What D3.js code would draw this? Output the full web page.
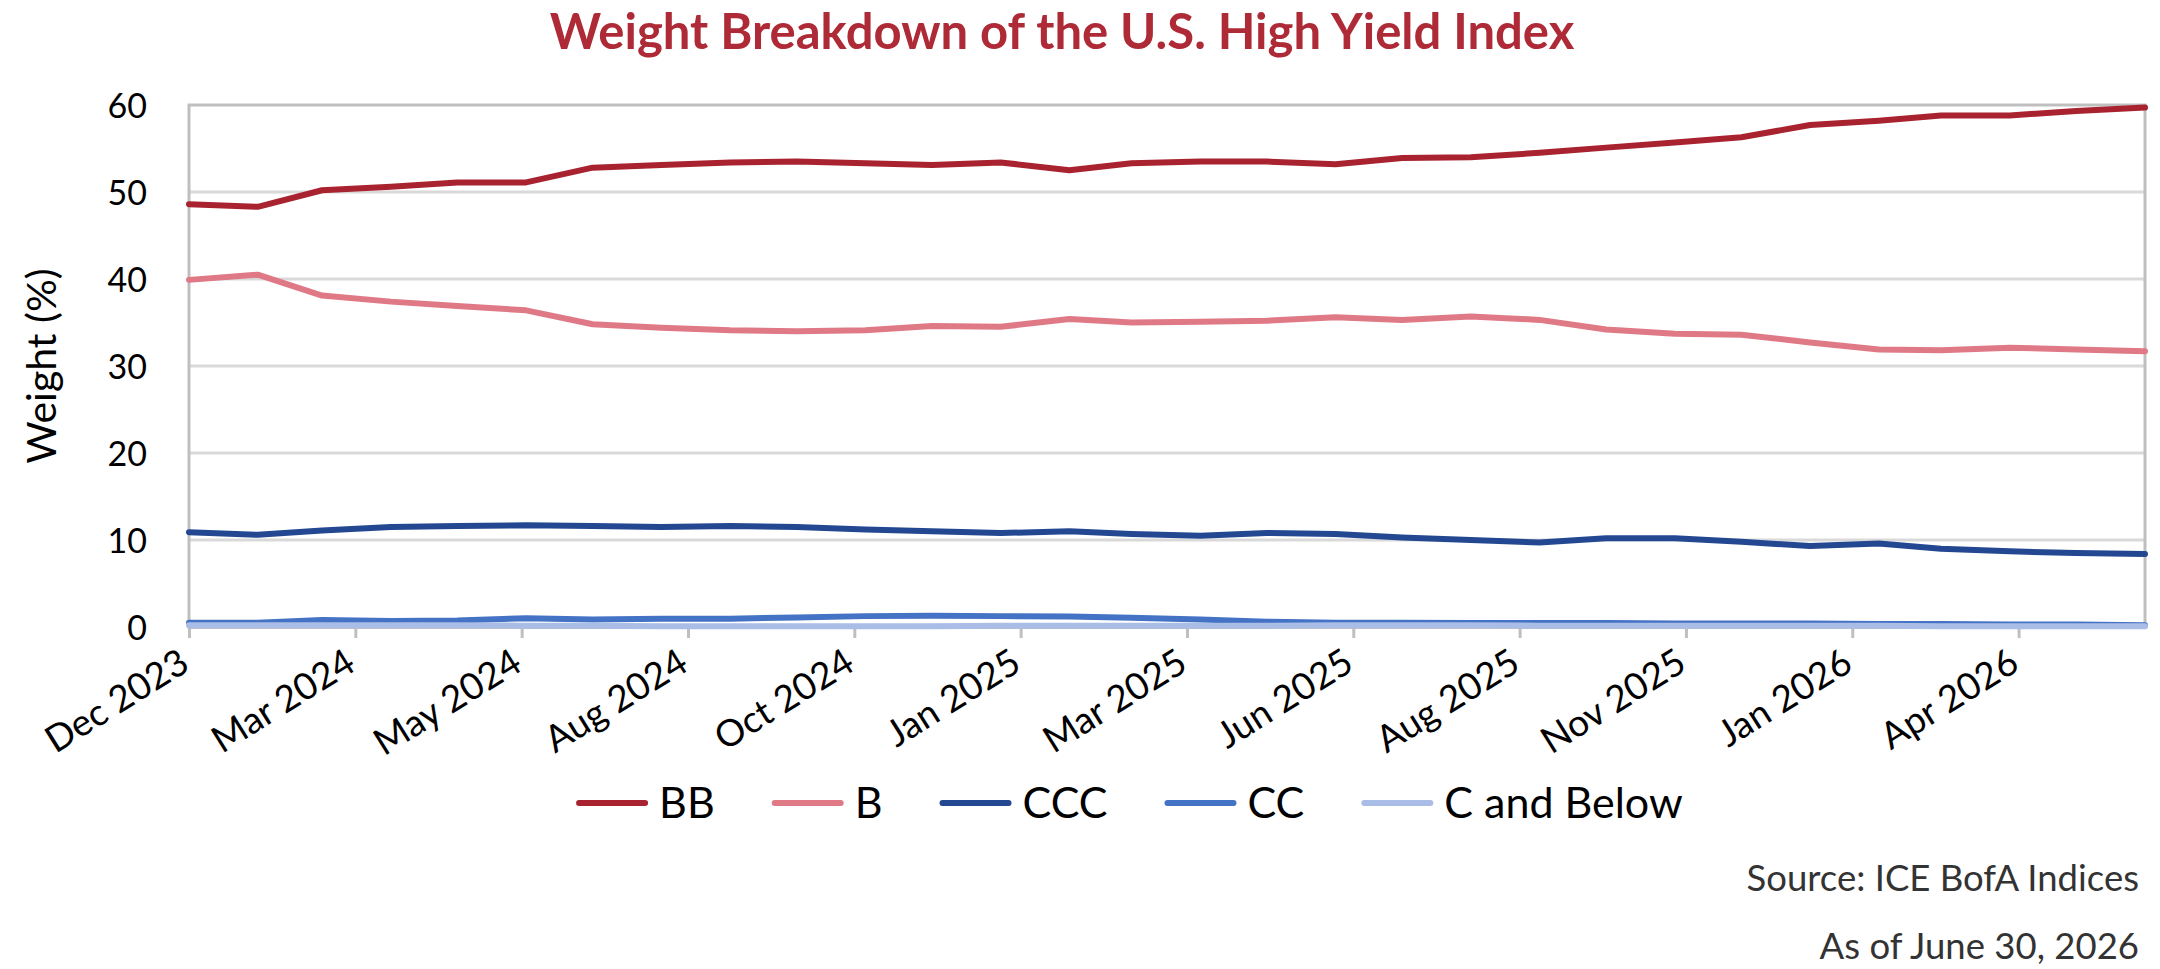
<!DOCTYPE html>
<html>
<head>
<meta charset="utf-8">
<script src="https://cdn.jsdelivr.net/npm/d3@7"></script>
<style>
  body { margin: 0; background: #fff; }
  svg { display: block; font-family: Lato, "Open Sans", sans-serif; }
</style>
</head>
<body>
<svg id="chart"></svg>
<script>
// month-end observations
const months = [
  '2023-12-31', '2024-01-31', '2024-02-29', '2024-03-31', '2024-04-30', '2024-05-31',
  '2024-06-30', '2024-07-31', '2024-08-31', '2024-09-30', '2024-10-31', '2024-11-30',
  '2024-12-31', '2025-01-31', '2025-02-28', '2025-03-31', '2025-04-30', '2025-05-31',
  '2025-06-30', '2025-07-31', '2025-08-31', '2025-09-30', '2025-10-31', '2025-11-30',
  '2025-12-31', '2026-01-31', '2026-02-28', '2026-03-31', '2026-04-30', '2026-05-31'
];

const seriesNames = ['BB', 'B', 'CCC', 'CC', 'C and Below'];

const bbValues = [48.6, 48.3, 50.2, 50.6, 51.1, 51.1, 52.8, 53.1, 53.4, 53.5,
                  53.3, 53.1, 53.4, 52.5, 53.3, 53.5, 53.5, 53.2, 53.9, 54.0,
                  54.5, 55.1, 55.7, 56.3, 57.7, 58.2, 58.8, 58.8, 59.3, 59.7];
const bValues = [39.9, 40.5, 38.1, 37.4, 36.9, 36.4, 34.8, 34.4, 34.1, 34.0,
                 34.1, 34.6, 34.5, 35.4, 35.0, 35.1, 35.2, 35.6, 35.3, 35.7,
                 35.3, 34.2, 33.7, 33.6, 32.7, 31.9, 31.8, 32.1, 31.9, 31.7];
const cccValues = [10.9, 10.6, 11.1, 11.5, 11.6, 11.7, 11.6, 11.5, 11.6, 11.5,
                   11.2, 11.0, 10.8, 11.0, 10.7, 10.5, 10.8, 10.7, 10.3, 10.0,
                   9.7, 10.2, 10.2, 9.8, 9.3, 9.6, 9.0, 8.7, 8.5, 8.4];
const ccValues = [0.5, 0.5, 0.8, 0.7, 0.75, 1.0, 0.85, 0.95, 0.95, 1.1,
                  1.25, 1.3, 1.25, 1.2, 1.05, 0.85, 0.6, 0.5, 0.5, 0.45,
                  0.45, 0.45, 0.4, 0.4, 0.4, 0.35, 0.35, 0.3, 0.3, 0.2];
const cBelowValues = [0.2, 0.2, 0.2, 0.2, 0.2, 0.15, 0.15, 0.1, 0.1, 0.1,
                      0.1, 0.1, 0.15, 0.15, 0.15, 0.15, 0.15, 0.2, 0.2, 0.2,
                      0.15, 0.15, 0.15, 0.15, 0.15, 0.15, 0.1, 0.1, 0.1, 0.1];

const yTicks = [0, 10, 20, 30, 40, 50, 60];
const TICK_DAYS = 75;

const colors = ['#a8232f', '#e07986', '#234891', '#4472c4', '#a9bde6'];

const WIDTH = 2160;
const HEIGHT = 969;
const PLOT = {left: 189, right: 2145, top: 105, bottom: 627};

const parse = d3.utcParse('%Y-%m-%d');
const dates = months.map(parse);
const allValues = [bbValues, bValues, cccValues, ccValues, cBelowValues];

const series = seriesNames.map((name, i) => ({
    name: name,
    color: colors[i],
    values: allValues[i].map((v, j) => ({date: dates[j], value: v}))
}));

const svg = d3.select('#chart')
    .attr('width', WIDTH)
    .attr('height', HEIGHT);

const x = d3.scaleUtc()
    .domain(d3.extent(dates))
    .range([PLOT.left, PLOT.right]);

const y = d3.scaleLinear()
    .domain([0, 60])
    .range([PLOT.bottom, PLOT.top]);

// title
svg.append('text')
    .attr('x', 1062)
    .attr('y', 49)
    .attr('text-anchor', 'middle')
    .attr('fill', '#ad2a36')
    .style('font-size', '49px')
    .style('font-weight', 'bold')
    .text('Weight Breakdown of the U.S. High Yield Index');

// gridlines
svg.append('g')
    .selectAll('line')
    .data(yTicks.filter(t => t > 0 && t < 60))
    .enter()
    .append('line')
    .attr('x1', PLOT.left)
    .attr('x2', PLOT.right)
    .attr('y1', d => y(d))
    .attr('y2', d => y(d))
    .attr('stroke', '#d9d9d9')
    .attr('stroke-width', 3);

// plot border
svg.append('rect')
    .attr('x', PLOT.left)
    .attr('y', PLOT.top)
    .attr('width', PLOT.right - PLOT.left)
    .attr('height', PLOT.bottom - PLOT.top)
    .attr('fill', 'none')
    .attr('stroke', '#bfbfbf')
    .attr('stroke-width', 3);

// y axis
const yAxis = svg.append('g')
    .attr('transform', `translate(${PLOT.left}, 0)`)
    .call(d3.axisLeft(y).tickValues(yTicks).tickSize(0).tickPadding(42));
yAxis.select('.domain').remove();
yAxis.selectAll('text')
    .style('font-size', '34px')
    .style('font-family', 'Lato')
    .attr('fill', '#000')
    .attr('dy', '0.36em');

svg.append('text')
    .attr('transform', `translate(56, ${(PLOT.top + PLOT.bottom) / 2}) rotate(-90)`)
    .attr('text-anchor', 'middle')
    .style('font-size', '41px')
    .text('Weight (%)');

// x axis
const tickDates = d3.utcDay.range(dates[0], dates[dates.length - 1])
    .filter((d, i) => i % TICK_DAYS === 0);

const xAxis = svg.append('g')
    .attr('transform', `translate(0, ${PLOT.bottom})`)
    .call(d3.axisBottom(x)
        .tickValues(tickDates)
        .tickFormat(d3.utcFormat('%b %Y'))
        .tickSize(11)
        .tickSizeOuter(0));
xAxis.select('.domain').attr('stroke', '#bfbfbf').attr('stroke-width', 3);
xAxis.selectAll('.tick line').attr('stroke', '#bfbfbf').attr('stroke-width', 3);
xAxis.selectAll('.tick text')
    .style('font-size', '37px')
    .style('font-family', 'Lato')
    .attr('fill', '#000')
    .attr('text-anchor', 'end')
    .attr('y', 0)
    .attr('dy', 0)
    .attr('transform', 'translate(2, 42) rotate(-32)');

// lines
const line = d3.line()
    .x(d => x(d.date))
    .y(d => y(d.value));

svg.append('g')
    .selectAll('path')
    .data(series)
    .enter()
    .append('path')
    .attr('d', d => line(d.values))
    .attr('fill', 'none')
    .attr('stroke', d => d.color)
    .attr('stroke-width', 6)
    .attr('stroke-linejoin', 'round')
    .attr('stroke-linecap', 'round');

// legend
const LEGEND_LINE = 66;
const LEGEND_GAP = 60;
const legend = svg.append('g');
let cursor = 0;
const items = legend.selectAll('g')
    .data(series)
    .enter()
    .append('g');
items.append('line')
    .attr('x1', 0)
    .attr('x2', LEGEND_LINE)
    .attr('stroke', d => d.color)
    .attr('stroke-width', 6)
    .attr('stroke-linecap', 'round');
items.append('text')
    .attr('x', LEGEND_LINE + 14)
    .attr('dy', '0.36em')
    .style('font-size', '43px')
    .text(d => d.name);
items.each(function () {
    const w = this.getBBox().width;
    d3.select(this).attr('transform', `translate(${cursor}, 0)`);
    cursor += w + LEGEND_GAP;
});
const legendWidth = cursor - LEGEND_GAP;
legend.attr('transform', `translate(${1131 - legendWidth / 2}, 803)`);

// source notes
svg.append('text')
    .attr('x', 2139)
    .attr('y', 891)
    .attr('text-anchor', 'end')
    .attr('fill', '#333')
    .style('font-size', '36.5px')
    .text('Source: ICE BofA Indices');

svg.append('text')
    .attr('x', 2139)
    .attr('y', 959)
    .attr('text-anchor', 'end')
    .attr('fill', '#333')
    .style('font-size', '36.5px')
    .text('As of June 30, 2026');
</script>
</body>
</html>
